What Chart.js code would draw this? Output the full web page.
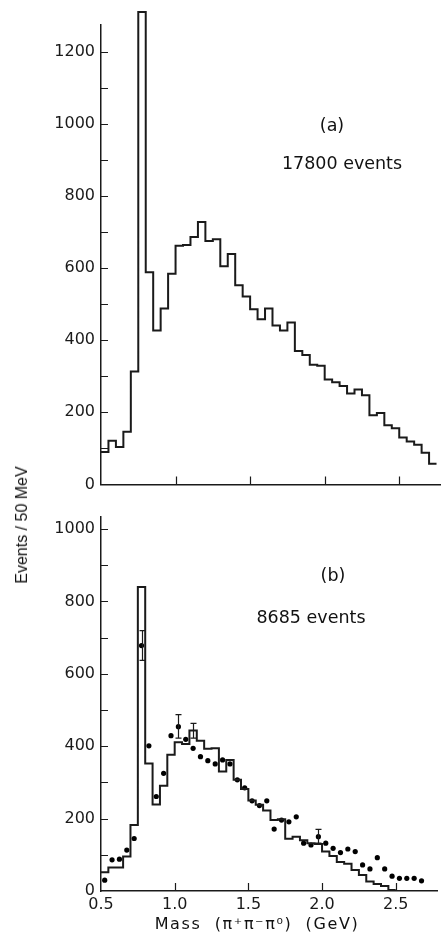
<!DOCTYPE html>
<html>
<head>
<meta charset="utf-8">
<script src="https://cdn.jsdelivr.net/npm/chart.js@4.4.1/dist/chart.umd.min.js"></script>
<style>
  body { margin: 0; background: #fff; }
  #wrap { position: relative; width: 441px; height: 935px; overflow: hidden; }
  canvas { position: absolute; left: 0; }
  #topChart { top: 0; }
  #bottomChart { top: 500px; }
  .lbl {
    position: absolute;
    font-family: "DejaVu Sans", sans-serif;
    font-size: 17.5px;
    color: #111;
    white-space: nowrap;
    transform: translate(-50%, -50%);
  }
  #ytitle {
    font-family: "Liberation Sans Narrow", "Liberation Sans", sans-serif;
    font-size: 16px;
    transform: translate(-50%, -50%) rotate(-90deg);
  }
  #xtitle { font-size: 16px; letter-spacing: 1.6px; }
</style>
</head>
<body>
<div id="wrap">
  <canvas id="topChart" width="441" height="500"></canvas>
  <canvas id="bottomChart" width="441" height="435"></canvas>
  <div class="lbl" style="left:332px; top:125px;">(a)</div>
  <div class="lbl" style="left:342px; top:163px;">17800 events</div>
  <div class="lbl" style="left:333px; top:575px;">(b)</div>
  <div class="lbl" style="left:311px; top:617px;">8685 events</div>
  <div class="lbl" id="xtitle" style="left:257px; top:923px;">Mass&nbsp;&nbsp;(π⁺π⁻π⁰)&nbsp;&nbsp;(GeV)</div>
  <div class="lbl" id="ytitle" style="left:22px; top:525px;">Events / 50 MeV</div>
</div>
<script>
// bins of 50 MeV starting at 0.5 GeV
const binStart = 0.5;
const binWidth = 0.05;

// (a) 17800 events
const topCounts = [90, 121, 104, 146, 313, 1310, 588, 427, 488, 584,
                   662, 664, 686, 728, 675, 680, 605, 639, 552, 521,
                   486, 458, 488, 441, 427, 449, 370, 359, 332, 329,
                   291, 283, 273, 252, 263, 247, 192, 198, 164, 156,
                   130, 119, 110, 88, 57];

// (b) 8685 events - histogram
const bottomCounts = [52, 65, 65, 95, 182, 840, 352, 239, 291, 376,
                      411, 406, 443, 415, 393, 394, 330, 362, 307, 282,
                      250, 238, 222, 196, 198, 144, 150, 140, 132, 130,
                      109, 97, 80, 75, 58, 44, 26, 19, 14, 3];

// (b) data points, one per bin
const bottomDots = [30, 86, 88, 113, 145, 678, 401, 261, 325, 429,
                    454, 419, 394, 371, 360, 351, 362, 351, 307, 285,
                    249, 236, 249, 171, 196, 191, 205, 132, 127, 150,
                    132, 118, 106, 116, 109, 72, 61, 92, 61, 41,
                    35, 35, 35, 28];

// error bars (bin index, low, high)
const errBins = [5, 10, 12, 29];
const errLow = [637, 422, 422, 132];
const errHigh = [719, 487, 463, 170];

const xTicks = [0.5, 1.0, 1.5, 2.0, 2.5];
const yTicksTop = [0, 100, 200, 300, 400, 500, 600, 700, 800, 900, 1000, 1100, 1200];
const yTicksBottom = [0, 100, 200, 300, 400, 500, 600, 700, 800, 900, 1000];

const ink = '#1a1a1a';
const tickFont = { family: 'DejaVu Sans', size: 16 };

// histogram outline: one point on each left bin edge, plus the closing edge
function histPoints(counts) {
    const pts = counts.map((v, i) => ({ x: binStart + i * binWidth, y: v }));
    pts.push({ x: binStart + counts.length * binWidth, y: counts[counts.length - 1] });
    return pts;
}

// tick marks drawn inside the frame, like the original
const innerTicks = {
    id: 'innerTicks',
    afterDatasetsDraw(chart) {
        const { ctx, chartArea, scales } = chart;
        ctx.save();
        ctx.strokeStyle = ink;
        ctx.lineWidth = 1.2;
        ctx.beginPath();
        scales.y.ticks.forEach(t => {
            if (t.value === 0) return;
            const py = Math.round(scales.y.getPixelForValue(t.value)) + 0.5;
            ctx.moveTo(chartArea.left, py);
            ctx.lineTo(chartArea.left + 7, py);
        });
        scales.x.ticks.forEach(t => {
            if (t.value === binStart) return;
            const px = Math.round(scales.x.getPixelForValue(t.value)) + 0.5;
            ctx.moveTo(px, chartArea.bottom);
            ctx.lineTo(px, chartArea.bottom - 8);
        });
        ctx.stroke();
        ctx.restore();
    }
};

const errorBars = {
    id: 'errorBars',
    afterDatasetsDraw(chart) {
        if (!chart.options.plugins.errorBars) return;
        const { ctx, scales } = chart;
        ctx.save();
        ctx.strokeStyle = ink;
        ctx.lineWidth = 1.2;
        ctx.beginPath();
        errBins.forEach((b, i) => {
            const px = Math.round(scales.x.getPixelForValue(binStart + (b + 0.5) * binWidth)) + 0.5;
            const lo = scales.y.getPixelForValue(errLow[i]);
            const hi = scales.y.getPixelForValue(errHigh[i]);
            ctx.moveTo(px, lo); ctx.lineTo(px, hi);
            ctx.moveTo(px - 3, lo); ctx.lineTo(px + 3, lo);
            ctx.moveTo(px - 3, hi); ctx.lineTo(px + 3, hi);
        });
        ctx.stroke();
        ctx.restore();
    }
};

function makeScales(yMax, yTicks, showX, xHeight) {
    return {
        x: {
            type: 'linear',
            min: 0.5,
            max: 2.78,
            afterBuildTicks: s => { s.ticks = xTicks.map(v => ({ value: v })); },
            afterFit: s => { s.height = xHeight; },
            ticks: {
                display: showX,
                padding: 4,
                color: ink,
                font: tickFont,
                maxRotation: 0,
                callback: v => v.toFixed(1)
            },
            grid: { drawOnChartArea: false, drawTicks: false },
            border: { color: ink, width: 1.5 }
        },
        y: {
            min: 0,
            max: yMax,
            afterBuildTicks: s => { s.ticks = yTicks.map(v => ({ value: v })); },
            afterFit: s => { s.width = 101; },
            ticks: {
                padding: 6,
                color: ink,
                font: tickFont,
                callback: v => (v % 200 === 0 ? String(v) : '')
            },
            grid: { drawOnChartArea: false, drawTicks: false },
            border: { color: ink, width: 1.5 }
        }
    };
}

const histStyle = {
    borderColor: ink,
    borderWidth: 2,
    pointRadius: 0,
    stepped: 'before',
    fill: false,
    clip: false
};

new Chart(document.getElementById('topChart'), {
    type: 'line',
    data: {
        datasets: [
            Object.assign({ label: '17800 events', data: histPoints(topCounts) }, histStyle)
        ]
    },
    options: {
        responsive: false,
        animation: false,
        devicePixelRatio: 1,
        layout: { padding: { top: 25, left: 0, right: 0, bottom: 0 } },
        scales: makeScales(1274, yTicksTop, false, 10),
        plugins: { legend: { display: false }, tooltip: { enabled: false } }
    },
    plugins: [innerTicks]
});

new Chart(document.getElementById('bottomChart'), {
    type: 'line',
    data: {
        datasets: [
            Object.assign({ label: '8685 events', data: histPoints(bottomCounts) }, histStyle),
            {
                label: 'data',
                data: bottomDots.map((v, i) => ({ x: binStart + (i + 0.5) * binWidth, y: v })),
                showLine: false,
                pointRadius: 2.6,
                pointBorderWidth: 0,
                pointBackgroundColor: '#000',
                clip: false
            }
        ]
    },
    options: {
        responsive: false,
        animation: false,
        devicePixelRatio: 1,
        layout: { padding: { top: 17, left: 0, right: 0, bottom: 0 } },
        scales: makeScales(1033, yTicksBottom, true, 44),
        plugins: { legend: { display: false }, tooltip: { enabled: false }, errorBars: true }
    },
    plugins: [innerTicks, errorBars]
});
</script>
</body>
</html>
